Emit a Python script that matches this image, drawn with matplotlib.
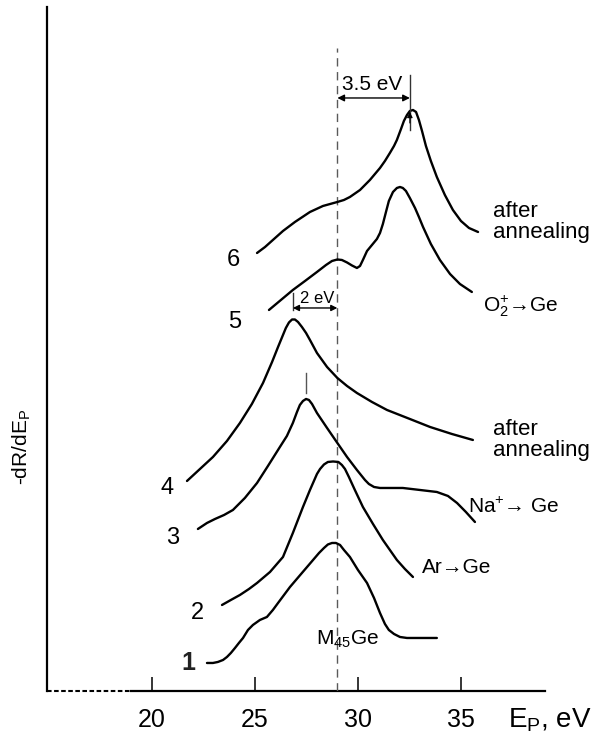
import matplotlib.pyplot as plt

plt.rcParams["font.family"] = ["Liberation Sans", "DejaVu Sans"]
plt.rcParams["mathtext.fontset"] = "custom"
plt.rcParams["mathtext.rm"] = "Liberation Sans"
plt.rcParams["mathtext.default"] = "regular"

# spectra, -dR/dE_P in arbitrary units (curves shifted vertically)
# 1: M45Ge
e_1 = [22.67, 22.96, 23.20, 23.45, 23.64, 23.83, 24.03, 24.22, 24.42, 24.66,
       24.90, 25.24, 25.58, 25.87, 26.12, 26.70, 27.28, 27.82, 28.11, 28.35,
       28.54, 28.74, 28.93, 29.13, 29.32, 29.61, 30.00, 30.44, 30.78, 31.07,
       31.31, 31.50, 31.75, 32.04, 32.38, 33.01, 33.83]
r_1 = [2.8, 2.8, 2.9, 3.1, 3.4, 3.8, 4.3, 4.8, 5.3, 6.1,
       6.6, 7.1, 7.4, 8.1, 8.8, 10.4, 11.8, 13.1, 13.8, 14.3,
       14.65, 14.8, 14.8, 14.6, 14.1, 13.4, 12.1, 10.8, 9.3, 7.8,
       6.7, 6.1, 5.7, 5.4, 5.3, 5.3, 5.3]

# 2: Ar -> Ge
e_2 = [23.40, 23.83, 24.27, 24.71, 25.10, 25.73, 26.36, 26.84, 27.33, 27.67,
       28.01, 28.16, 28.35, 28.54, 28.79, 29.05, 29.22, 29.37, 29.56, 29.85,
       30.24, 30.73, 31.21, 31.55, 31.89, 32.28, 32.67]
r_2 = [8.6, 9.1, 9.6, 10.2, 10.8, 11.9, 13.4, 15.8, 18.4, 20.1,
       21.7, 22.2, 22.65, 22.9, 22.95, 22.9, 22.6, 22.2, 21.4, 20.1,
       18.4, 16.7, 15.1, 14.1, 13.1, 12.2, 11.4]

# 3: Na+ -> Ge
e_3 = [22.23, 22.67, 23.06, 23.50, 23.93, 24.51, 25.10, 25.63, 26.21, 26.55,
       26.84, 27.04, 27.18, 27.33, 27.48, 27.62, 27.77, 28.01, 28.50, 29.00,
       29.47, 29.95, 30.34, 30.53, 30.78, 31.07, 31.55, 32.18, 33.01, 33.83,
       34.37, 34.81, 35.24, 35.68]
r_3 = [16.2, 16.8, 17.2, 17.6, 18.1, 19.3, 20.8, 22.5, 24.4, 25.5,
       26.8, 27.9, 28.6, 29.0, 29.2, 29.1, 28.7, 27.8, 26.3, 24.8,
       23.4, 22.1, 21.1, 20.7, 20.4, 20.3, 20.3, 20.3, 20.1, 19.9,
       19.5, 18.8, 17.9, 16.9]

# 4: Na+ -> Ge after annealing
e_4 = [21.70, 22.33, 22.96, 23.64, 24.27, 24.85, 25.39, 25.83, 26.12, 26.36,
       26.50, 26.65, 26.80, 26.94, 27.09, 27.28, 27.48, 27.67, 28.01, 28.50,
       29.00, 29.47, 29.95, 30.68, 31.41, 32.52, 33.50, 34.56, 35.58]
r_4 = [21.0, 22.2, 23.4, 25.0, 26.8, 28.7, 30.8, 32.9, 34.4, 35.6,
       36.3, 36.85, 37.15, 37.15, 36.9, 36.4, 35.8, 35.1, 33.8, 32.4,
       31.3, 30.5, 29.8, 28.9, 28.1, 27.2, 26.4, 25.7, 25.1]

# 5: O2+ -> Ge
e_5 = [25.68, 26.26, 26.84, 27.43, 28.01, 28.45, 28.74, 29.00, 29.22, 29.47,
       29.71, 29.95, 30.10, 30.24, 30.44, 30.68, 30.92, 31.07, 31.21, 31.36,
       31.50, 31.70, 31.89, 32.04, 32.18, 32.33, 32.52, 32.77, 32.96, 33.16,
       33.54, 33.98, 34.47, 34.95, 35.53]
r_5 = [38.1, 39.1, 40.1, 41.0, 41.9, 42.6, 43.0, 43.15, 43.1, 42.85,
       42.55, 42.3, 42.5, 43.1, 44.0, 44.6, 45.2, 45.8, 46.7, 47.9,
       49.0, 49.9, 50.3, 50.4, 50.3, 50.0, 49.3, 48.3, 47.4, 46.4,
       44.7, 43.1, 41.7, 40.7, 39.9]

# 6: O2+ -> Ge after annealing
e_6 = [25.10, 25.49, 25.87, 26.36, 26.94, 27.67, 28.30, 29.00, 29.32, 29.61,
       30.10, 30.58, 31.07, 31.31, 31.55, 31.75, 31.89, 32.09, 32.23, 32.38,
       32.52, 32.67, 32.82, 32.96, 33.11, 33.30, 33.54, 33.83, 34.22, 34.61,
       35.00, 35.39, 35.83]
r_6 = [43.8, 44.4, 45.1, 46.0, 46.9, 47.9, 48.5, 48.9, 49.1, 49.4,
       50.1, 51.1, 52.3, 53.0, 53.8, 54.5, 55.1, 56.2, 57.0, 57.6,
       58.0, 58.1, 57.9, 57.1, 56.0, 54.5, 53.0, 51.4, 49.6, 48.1,
       47.0, 46.3, 45.9]

tick_values = [20, 25, 30, 35]
ge_plasmon = 29.0      # dashed reference line
oxide_peak = 32.52     # curve 6 maximum, +3.5 eV
annealed_peak = 26.84  # curve 4 maximum, -2 eV
na_peak = 27.48        # curve 3 maximum

fig = plt.figure(figsize=(5.96, 7.35), dpi=100)
ax = fig.add_axes([0.0784, 0.0599, 0.8360, 0.9306])
ax.set_xlim(14.89, 39.08)
ax.set_ylim(0, 68.4)

for side in ["top", "right", "bottom"]:
    ax.spines[side].set_visible(False)
ax.spines["left"].set_linewidth(1.6)

# x axis: dashed break, then solid
ax.plot([14.89, 19.0], [0, 0], color="black", lw=1.5, ls=(0, (2.2, 1.2)), clip_on=False)
ax.plot([19.0, 39.08], [0, 0], color="black", lw=1.6, clip_on=False)

ax.set_xticks(tick_values)
ax.set_yticks([])
ax.tick_params(axis="x", direction="in", length=10, width=1.1, labelsize=18, pad=12.5)

# reference line
ax.plot([ge_plasmon, ge_plasmon], [0, 64.3], color="#5a5a5a", lw=1.0, ls=(0, (6, 4)))

for e, r in [(e_1, r_1), (e_2, r_2), (e_3, r_3), (e_4, r_4), (e_5, r_5), (e_6, r_6)]:
    ax.plot(e, r, color="black", lw=1.7, solid_capstyle="round", solid_joinstyle="round")

# curve numbers
ax.text(21.75, 2.8, "1", fontsize=18, fontweight="bold", ha="center", va="center", color="#222222")
ax.text(22.23, 7.8, "2", fontsize=17, ha="center", va="center")
ax.text(21.02, 15.3, "3", fontsize=17, ha="center", va="center")
ax.text(20.73, 20.3, "4", fontsize=17, ha="center", va="center")
ax.text(24.03, 36.9, "5", fontsize=17, ha="center", va="center")
ax.text(23.93, 43.1, "6", fontsize=17, ha="center", va="center")

# curve descriptions
ax.text(27.96, 4.6, r"M$_{45}$Ge", fontsize=15, ha="left", va="baseline")
ax.text(33.11, 11.8, "Ar→Ge", fontsize=15, ha="left", va="baseline")
ax.text(35.34, 17.8, "Na$^{+}$→ Ge", fontsize=15, ha="left", va="baseline")
ax.text(36.55, 25.6, "after", fontsize=16, ha="left", va="baseline")
ax.text(36.55, 23.5, "annealing", fontsize=16, ha="left", va="baseline")
ax.text(36.07, 37.9, "O$_2^{+}$→Ge", fontsize=15, ha="left", va="baseline")
ax.text(36.55, 47.4, "after", fontsize=16, ha="left", va="baseline")
ax.text(36.55, 45.3, "annealing", fontsize=16, ha="left", va="baseline")

# 3.5 eV shift
ax.plot([oxide_peak, oxide_peak], [56.1, 61.6], color="#333333", lw=1.0)
ax.annotate("", xy=(ge_plasmon, 59.3), xytext=(oxide_peak, 59.3),
            arrowprops=dict(arrowstyle="<|-|>", color="black", lw=1.0,
                            shrinkA=0, shrinkB=0, mutation_scale=10))
ax.annotate("", xy=(oxide_peak, 57.9), xytext=(oxide_peak, 56.8),
            arrowprops=dict(arrowstyle="-|>", color="black", lw=0.8,
                            shrinkA=0, shrinkB=0, mutation_scale=8))
ax.text(29.22, 60.1, "3.5 eV", fontsize=15, ha="left", va="baseline")

# 2 eV shift
ax.plot([annealed_peak, annealed_peak], [38.1, 39.8], color="#333333", lw=1.0)
ax.annotate("", xy=(annealed_peak, 38.3), xytext=(ge_plasmon, 38.3),
            arrowprops=dict(arrowstyle="<|-|>", color="black", lw=1.0,
                            shrinkA=0, shrinkB=0, mutation_scale=9))
ax.text(27.18, 38.8, "2 eV", fontsize=12, ha="left", va="baseline")

# peak marker of curve 3
ax.plot([na_peak, na_peak], [29.8, 31.8], color="#555555", lw=1.0)

ax.text(13.69, 24.4, "-dR/dE$_P$", fontsize=15, rotation=90, ha="center", va="center")
ax.text(37.28, -2.9, "E$_P$, eV", fontsize=20, ha="left", va="center")

fig.savefig("out.png", dpi=100)
